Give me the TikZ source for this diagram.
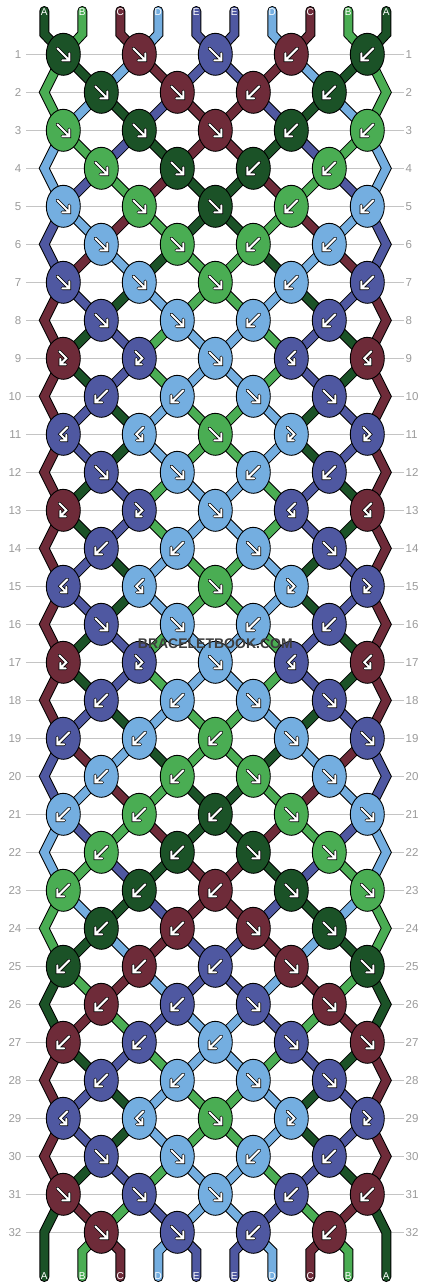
\documentclass[tikz,border=0pt]{standalone}
\usepackage{fontspec}
\setsansfont{Liberation Sans}
\usetikzlibrary{shapes.geometric}

\definecolor{strA}{HTML}{1B5227}
\definecolor{strB}{HTML}{4AAD53}
\definecolor{strC}{HTML}{6E2B39}
\definecolor{strD}{HTML}{74AEE0}
\definecolor{strE}{HTML}{4F58A1}
\definecolor{rowline}{HTML}{C4C4C4}
\definecolor{rowtext}{HTML}{9A9A9A}
\definecolor{wmark}{HTML}{3E3E3E}

\pgfdeclarelayer{grid}
\pgfdeclarelayer{strings}
\pgfsetlayers{grid,strings,main}

\tikzset{
  knot/.style={ellipse, draw=black, line width=0.9pt, minimum width=34pt, minimum height=42pt, inner sep=0pt},
  strand/.style={draw=black, line width=1pt, double distance=8pt, line cap=round, line join=miter},
  glyph/.style={line cap=round, line join=miter},
  rowlabel/.style={text=rowtext, font=\sffamily\fontsize{11.5}{12}\selectfont, inner ysep=0pt},
  letter/.style={text=white, font=\sffamily\fontsize{10}{10}\selectfont, inner sep=0pt},
  arrf/.pic={\foreach \lw/\lc in {3.4/black,2/white}
    \draw[glyph, line width=\lw pt, \lc] (-6,-6) -- (6,6) (-1,6) -- (6,6) -- (6,-1);},
  arrb/.pic={\foreach \lw/\lc in {3.4/black,2/white}
    \draw[glyph, line width=\lw pt, \lc] (6,-6) -- (-6,6) (1,6) -- (-6,6) -- (-6,-1);},
  arrfb/.pic={\foreach \lw/\lc in {3.4/black,2/white}
    \draw[glyph, line width=\lw pt, \lc] (-4,-7) -- (3,0) -- (-3,6) (-3,0.5) -- (-3,6) -- (2.5,6);},
  arrbf/.pic={\foreach \lw/\lc in {3.4/black,2/white}
    \draw[glyph, line width=\lw pt, \lc] (4,-7) -- (-3,0) -- (3,6) (3,0.5) -- (3,6) -- (-2.5,6);},
}

\begin{document}
\begin{tikzpicture}[x=1pt, y=-1pt]
\useasboundingbox (0,0) rectangle (430,1288);

% string ends and edge bends
\foreach \p in {0,...,9} {
  \pgfmathsetmacro\sx{44.3+38*\p}
  \coordinate (t\p) at (\sx,11);
  \coordinate (tt\p) at (\sx,34);
  \coordinate (bt\p) at (\sx,1251.3);
  \coordinate (b\p) at (\sx,1277);
}
\foreach \r in {2,4,...,32}
  \foreach \p in {0,9}
    \coordinate (e\r-\p) at ({44.3+38*\p},{54.3+38*(\r-1)});

% row numbers
\foreach \r in {1,...,32} {
  \pgfmathsetmacro\ky{54.3+38*(\r-1)}
  \node[rowlabel, anchor=east, inner xsep=4.5pt] (nl\r) at (26,\ky) {\r};
  \node[rowlabel, anchor=west, inner xsep=1.5pt] (nr\r) at (404,\ky) {\r};
  \begin{pgfonlayer}{grid}
    \draw[rowline, line width=1pt] (nl\r.east) -- (nr\r.west);
  \end{pgfonlayer}
}

% knots
\foreach \row [count=\r] in {
  {A/f,C/f,E/f,C/b,A/b},
  {A/f,C/f,C/b,A/b},
  {B/f,A/f,C/f,A/b,B/b},
  {B/f,A/f,A/b,B/b},
  {D/f,B/f,A/f,B/b,D/b},
  {D/f,B/f,B/b,D/b},
  {E/f,D/f,B/f,D/b,E/b},
  {E/f,D/f,D/b,E/b},
  {C/fb,E/fb,D/f,E/bf,C/bf},
  {E/b,D/b,D/f,E/f},
  {E/bf,D/bf,B/f,D/fb,E/fb},
  {E/f,D/f,D/b,E/b},
  {C/fb,E/fb,D/f,E/bf,C/bf},
  {E/b,D/b,D/f,E/f},
  {E/bf,D/bf,B/f,D/fb,E/fb},
  {E/f,D/f,D/b,E/b},
  {C/fb,E/fb,D/f,E/bf,C/bf},
  {E/b,D/b,D/f,E/f},
  {E/b,D/b,B/b,D/f,E/f},
  {D/b,B/b,B/f,D/f},
  {D/b,B/b,A/b,B/f,D/f},
  {B/b,A/b,A/f,B/f},
  {B/b,A/b,C/b,A/f,B/f},
  {A/b,C/b,C/f,A/f},
  {A/b,C/b,E/b,C/f,A/f},
  {C/b,E/b,E/f,C/f},
  {C/b,E/b,D/b,E/f,C/f},
  {E/b,D/b,D/f,E/f},
  {E/bf,D/bf,B/f,D/fb,E/fb},
  {E/f,D/f,D/b,E/b},
  {C/f,E/f,D/f,E/b,C/b},
  {C/f,E/f,E/b,C/b}} {
  \foreach \col/\kind [count=\k from 0] in \row {
    \pgfmathsetmacro\kx{(mod(\r,2)==1 ? 63.3 : 101.3)+76*\k}
    \pgfmathsetmacro\ky{54.3+38*(\r-1)}
    \node[knot, fill=str\col] (k\r-\k) at (\kx,\ky) {};
    \pic at (k\r-\k.center) {arr\kind};
  }
}

% strings, row by row (order after each row)
\begin{pgfonlayer}{strings}
\foreach \ord [count=\rr from 0] in {
  {A,B,C,D,E,E,D,C,B,A},
  {B,A,D,C,E,E,C,D,A,B},
  {B,D,A,E,C,C,E,A,D,B},
  {D,B,E,A,C,C,A,E,B,D},
  {D,E,B,C,A,A,C,B,E,D},
  {E,D,C,B,A,A,B,C,D,E},
  {E,C,D,A,B,B,A,D,C,E},
  {C,E,A,D,B,B,D,A,E,C},
  {C,A,E,B,D,D,B,E,A,C},
  {C,A,E,B,D,D,B,E,A,C},
  {C,E,A,D,B,B,D,A,E,C},
  {C,E,A,D,B,B,D,A,E,C},
  {C,A,E,B,D,D,B,E,A,C},
  {C,A,E,B,D,D,B,E,A,C},
  {C,E,A,D,B,B,D,A,E,C},
  {C,E,A,D,B,B,D,A,E,C},
  {C,A,E,B,D,D,B,E,A,C},
  {C,A,E,B,D,D,B,E,A,C},
  {C,E,A,D,B,B,D,A,E,C},
  {E,C,D,A,B,B,A,D,C,E},
  {E,D,C,B,A,A,B,C,D,E},
  {D,E,B,C,A,A,C,B,E,D},
  {D,B,E,A,C,C,A,E,B,D},
  {B,D,A,E,C,C,E,A,D,B},
  {B,A,D,C,E,E,C,D,A,B},
  {A,B,C,D,E,E,D,C,B,A},
  {A,C,B,E,D,D,E,B,C,A},
  {C,A,E,B,D,D,B,E,A,C},
  {C,E,A,D,B,B,D,A,E,C},
  {C,E,A,D,B,B,D,A,E,C},
  {C,A,E,B,D,D,B,E,A,C},
  {A,C,B,E,D,D,E,B,C,A},
  {A,B,C,D,E,E,D,C,B,A}} {
  \foreach \c [count=\p from 0] in \ord {
    \pgfmathtruncatemacro\nr{\rr+1}
    \pgfmathtruncatemacro\nnr{\rr+2}
    \pgfmathtruncatemacro\qo{floor(\p/2)}
    \pgfmathtruncatemacro\qe{floor((\p-1)/2)}
    \pgfmathtruncatemacro\inner{(\p>0)&&(\p<9)}
    \pgfmathtruncatemacro\odd{mod(\rr,2)}
    \ifnum\rr=0
      \draw[strand, double=str\c] (t\p) -- (tt\p) -- (k1-\qo.center);
    \else\ifnum\rr=32
      \ifnum\inner=1
        \draw[strand, double=str\c] (k32-\qe.center) -- (bt\p) -- (b\p);
      \fi
    \else
      \ifnum\inner=1
        \ifnum\odd=1
          \draw[strand, double=str\c] (k\rr-\qo.center) -- (k\nr-\qe.center);
        \else
          \draw[strand, double=str\c] (k\rr-\qe.center) -- (k\nr-\qo.center);
        \fi
      \else\ifnum\odd=1
        \ifnum\rr=31
          \draw[strand, double=str\c] (k31-\qo.center) -- (e32-\p) -- (b\p);
        \else
          \draw[strand, double=str\c] (k\rr-\qo.center) -- (e\nr-\p) -- (k\nnr-\qo.center);
        \fi
      \fi\fi
    \fi\fi
  }
}
\end{pgfonlayer}

% letters at both ends
\foreach \c [count=\p from 0] in {A,B,C,D,E,E,D,C,B,A} {
  \node[letter, yshift=-1.5pt] (lt\p) at (t\p) {\c};
  \node[letter, yshift=1pt] (lb\p) at (b\p) {\c};
}

\node[text=wmark, font=\sffamily\bfseries\fontsize{14}{14}\selectfont] (wm) at (215.3,643.5) {BRACELETBOOK.COM};
\end{tikzpicture}
\end{document}
